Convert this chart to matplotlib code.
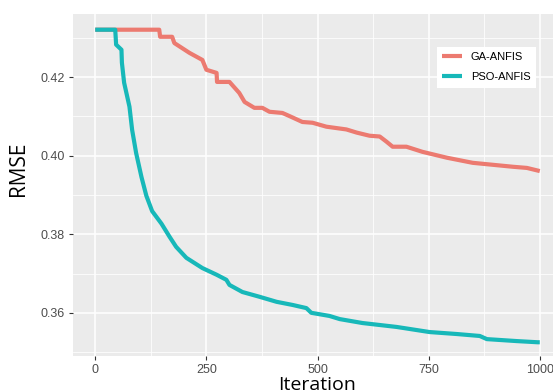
import numpy as np
import matplotlib
matplotlib.use("Agg")
import matplotlib.pyplot as plt
from matplotlib.ticker import MultipleLocator

# values
ga_iter = [0, 144, 146, 173, 178, 212, 241, 250, 273, 274, 302, 324, 336, 358, 376, 392,
           421, 437, 466, 489, 520, 565, 588, 617, 640, 655, 669, 700, 736, 791, 849, 894,
           939, 971, 1000]
ga_rmse = [0.4321, 0.4321, 0.4303, 0.4303, 0.4287, 0.4262, 0.4244, 0.4219, 0.4211, 0.4188,
           0.4188, 0.4160, 0.4137, 0.4122, 0.4122, 0.4112, 0.4109, 0.4101, 0.4086, 0.4084,
           0.4074, 0.4067, 0.4059, 0.4051, 0.4049, 0.4036, 0.4023, 0.4023, 0.4010, 0.3995,
           0.3982, 0.3977, 0.3972, 0.3969, 0.3961]

pso_iter = [0, 45, 47, 59, 60, 65, 77, 83, 92, 104, 115, 128, 149, 167, 182, 205, 241, 273,
            295, 302, 331, 369, 408, 444, 475, 486, 527, 550, 601, 678, 752, 813, 865, 881,
            948, 995, 1000]
pso_rmse = [0.4321, 0.4321, 0.4283, 0.4270, 0.4237, 0.4186, 0.4125, 0.4066, 0.4007, 0.3946,
            0.3898, 0.3859, 0.3827, 0.3794, 0.3768, 0.3740, 0.3714, 0.3697, 0.3684, 0.3671,
            0.3653, 0.3641, 0.3628, 0.3620, 0.3612, 0.3600, 0.3592, 0.3584, 0.3574, 0.3564,
            0.3551, 0.3546, 0.3541, 0.3533, 0.3528, 0.3525, 0.3525]

labels = ["GA-ANFIS", "PSO-ANFIS"]
colors = ["#EC7A70", "#17B8B9"]

plt.rcParams["font.family"] = "Liberation Sans"

fig = plt.figure(figsize=(5.53, 3.91), dpi=100)
ax = fig.add_axes([73/553, 1 - 356/391, 489/553, 342/391])
ax.set_facecolor("#EBEBEB")

ax.plot(ga_iter, ga_rmse, color=colors[0], lw=3, label=labels[0], solid_capstyle="butt")
ax.plot(pso_iter, pso_rmse, color=colors[1], lw=3, label=labels[1], solid_capstyle="butt")

ax.set_xlim(-50, 1050)
ax.set_ylim(0.3490, 0.4361)
ax.xaxis.set_major_locator(MultipleLocator(250))
ax.xaxis.set_minor_locator(MultipleLocator(125))
ax.yaxis.set_minor_locator(MultipleLocator(0.01))
ax.set_yticks([0.36, 0.38, 0.40, 0.42])
ax.set_yticklabels(["0.36", "0.38", "0.40", "0.42"])
ax.grid(which="major", color="white", lw=1.1)
ax.grid(which="minor", color="white", lw=0.55)
ax.set_axisbelow(True)
for s in ax.spines.values():
    s.set_visible(False)
ax.tick_params(which="major", length=3, color="#333333", labelcolor="#4D4D4D", labelsize=9, pad=3)
ax.tick_params(which="minor", length=0)

ax.set_xlabel("Iteration", family="Open Sans", fontsize=14, labelpad=0)
ax.set_ylabel("RMSE", family="Open Sans", fontsize=15)
ax.yaxis.set_label_coords(-0.09, 0.547)

leg = ax.legend(loc="upper left", bbox_to_anchor=(0.732, 0.921), fontsize=8,
                handlelength=1.8, labelspacing=0.9, borderpad=0.5, frameon=True,
                fancybox=False, framealpha=1, handletextpad=0.8)
leg.get_frame().set_facecolor("white")
leg.get_frame().set_edgecolor("none")
for line in leg.get_lines():
    line.set_linewidth(3)

fig.savefig("out.png", dpi=100)
